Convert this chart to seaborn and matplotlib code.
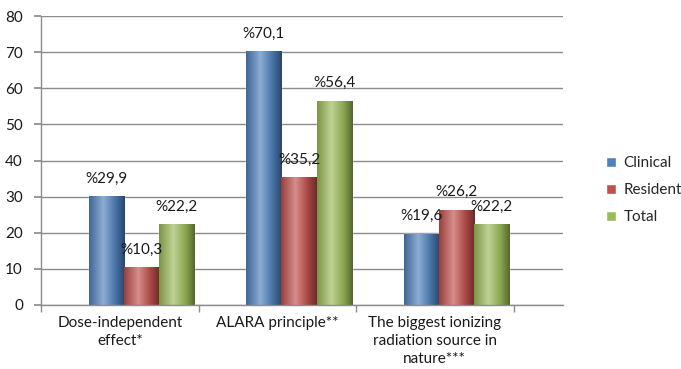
import matplotlib.pyplot as plt
import matplotlib.colors as mcolors
import numpy as np
import pandas as pd
import seaborn as sns

categories = ['Dose-independent\neffect*', 'ALARA principle**',
              'The biggest ionizing\nradiation source in\nnature***']
groups = ['Clinical', 'Resident', 'Total']
clinical = [29.9, 70.1, 19.6]
resident = [10.3, 35.2, 26.2]
total = [22.2, 56.4, 22.2]
colors = ['#4F81BD', '#C0504D', '#9BBB59']

df = pd.DataFrame({'question': categories * 3,
                   'group': [g for g in groups for _ in categories],
                   'value': clinical + resident + total})

sns.set_theme(style='white')
plt.rcParams['font.family'] = ['Lato', 'DejaVu Sans']
grey = '#8c8c8c'
txt = '#1a1a1a'
fs = 11

fig = plt.figure(figsize=(6.81, 3.69), dpi=100)
ax = fig.add_axes([41 / 681, 64 / 369, 522 / 681, 289 / 369])
sns.barplot(data=df, x='question', y='value', hue='group', palette=colors,
            width=0.667, gap=0, saturation=1, ax=ax, legend=True)


# excel-like cylinder shading on each bar
def shade(color):
    c = np.array(mcolors.to_rgb(color))
    stops = [c * 0.8, c + (1 - c) * 0.35, c * 0.88, c * 0.55]
    pos = [0, 0.4, 0.75, 1]
    xs = np.linspace(0, 1, 64)
    img = np.stack([np.interp(xs, pos, [s[i] for s in stops]) for i in range(3)], axis=-1)
    return img[None, :, :]


for cont, col in zip(ax.containers, colors):
    img = shade(col)
    for bar in cont:
        x0, y0 = bar.get_x(), bar.get_y()
        ax.imshow(img, extent=[x0, x0 + bar.get_width(), y0, y0 + bar.get_height()],
                  aspect='auto', zorder=bar.get_zorder() + 0.1, interpolation='bilinear')
    labels = ['%' + f'{b.get_height():.1f}'.replace('.', ',') for b in cont]
    ax.bar_label(cont, labels=labels, padding=8, fontsize=fs, color=txt)

left = -0.638
ax.set_xlim(left, left + 3.314)
ax.set_ylim(0, 80)
ax.set_yticks(np.arange(0, 81, 10))
ax.set_xticks([left + 0.5 + k for k in range(3)], labels=categories)
ax.set_xticks([left + k for k in range(4)], minor=True)
ax.set_xlabel('')
ax.set_ylabel('')

ax.yaxis.grid(True, color=grey, lw=1)
ax.set_axisbelow(True)
for s in ['top', 'right']:
    ax.spines[s].set_visible(False)
for s in ['left', 'bottom']:
    ax.spines[s].set_color(grey)
    ax.spines[s].set_linewidth(1)

ax.tick_params(axis='y', left=True, length=5, color=grey, pad=8, labelsize=fs, labelcolor=txt)
ax.tick_params(axis='x', which='major', bottom=False, length=0, pad=8, labelsize=fs, labelcolor=txt)
ax.tick_params(axis='x', which='minor', bottom=True, length=5, color=grey)
for t in ax.get_xticklabels():
    t.set_linespacing(1.38)

handles, labs = ax.get_legend_handles_labels()
ax.legend(handles, labs, loc='center left', bbox_to_anchor=(606 / 681, 0.485),
          bbox_transform=fig.transFigure, frameon=False, fontsize=fs,
          handlelength=0.65, handleheight=0.65, handletextpad=0.5,
          labelspacing=0.85, borderpad=0, borderaxespad=0)

plt.savefig('out.png', dpi=100)
